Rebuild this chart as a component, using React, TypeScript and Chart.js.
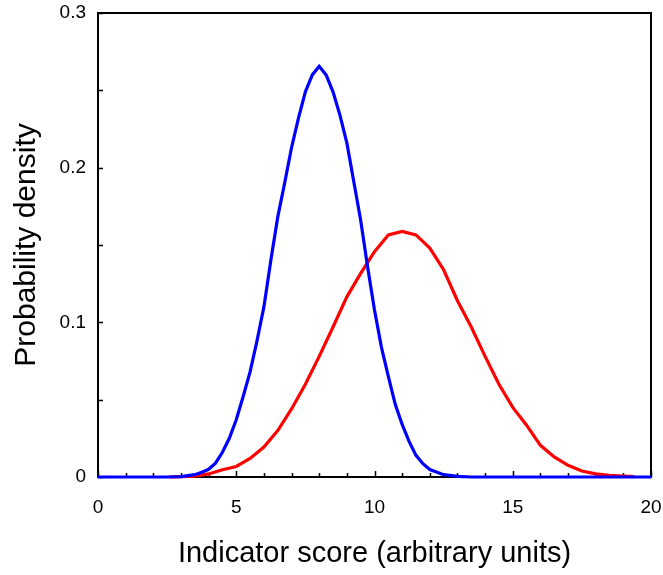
import React, { useEffect, useRef } from "react";
import { Chart, registerables } from "chart.js";

Chart.register(...registerables);

// Density curve for the first group (blue)
const blueX = [0, 1, 2, 2.5, 3, 3.5, 3.75, 4, 4.25, 4.5, 4.75, 5, 5.25, 5.5, 5.75, 6, 6.25, 6.5, 6.75, 7, 7.25, 7.5, 7.75, 8, 8.25, 8.5, 8.75, 9, 9.25, 9.5, 9.75, 10, 10.25, 10.5, 10.75, 11, 11.25, 11.5, 11.75, 12, 12.5, 13, 13.5, 14, 20];
const blueY = [0, 0, 0, 0, 0.0002, 0.0015, 0.003, 0.005, 0.009, 0.016, 0.025, 0.037, 0.052, 0.068, 0.088, 0.11, 0.14, 0.168, 0.19, 0.213, 0.232, 0.249, 0.26, 0.2655, 0.26, 0.249, 0.234, 0.216, 0.191, 0.166, 0.136, 0.108, 0.084, 0.065, 0.047, 0.034, 0.023, 0.014, 0.0086, 0.0048, 0.0015, 0.0004, 0, 0, 0];

// Density curve for the second group (red)
const redX = [2.6, 3, 3.5, 4, 4.5, 5, 5.5, 6, 6.5, 7, 7.5, 8, 8.5, 9, 9.5, 10, 10.5, 11, 11.5, 12, 12.5, 13, 13.5, 14, 14.5, 15, 15.5, 16, 16.5, 17, 17.5, 18, 18.5, 19, 19.4];
const redY = [0, 0.0002, 0.0005, 0.002, 0.0047, 0.0068, 0.012, 0.0194, 0.03, 0.044, 0.06, 0.078, 0.097, 0.1165, 0.1316, 0.1457, 0.1565, 0.1588, 0.1565, 0.148, 0.134, 0.114, 0.097, 0.078, 0.06, 0.045, 0.0335, 0.0205, 0.013, 0.0076, 0.0039, 0.002, 0.001, 0.0006, 0.0003];

// Axis ranges, labelled steps and inward tick marks
const xMin = 0;
const xMax = 20;
const xLabelStep = 5;
const xTickMarks = [0, 1, 2, 3, 4, 5, 6, 7, 8, 9, 10, 11, 12, 13, 14, 15, 16, 17, 18, 19, 20];
const yMin = 0;
const yMax = 0.3;
const yLabelStep = 0.1;
const yTickMarks = [0, 0.05, 0.1, 0.15, 0.2, 0.25, 0.3];

const xTitle = "Indicator score (arbitrary units)";
const yTitle = "Probability density";

const FONT = "'Liberation Sans', Arial, Helvetica, sans-serif";

const toPoints = (xs: number[], ys: number[]) => xs.map((x, i) => ({ x, y: ys[i] }));

// Box frame with inward ticks
const framePlugin = {
  id: "frameTicks",
  beforeDatasetsDraw(chart: any) {
    const { ctx, chartArea: a, scales } = chart;
    const xs = scales.x;
    const ys = scales.y;
    ctx.save();
    ctx.strokeStyle = "#000";
    ctx.lineWidth = 1.5;
    ctx.beginPath();
    for (const v of xTickMarks) {
      const px = Math.round(xs.getPixelForValue(v)) + 0.5;
      const len = v % xLabelStep === 0 ? 6 : 4;
      ctx.moveTo(px, a.bottom);
      ctx.lineTo(px, a.bottom - len);
    }
    for (const v of yTickMarks) {
      const py = Math.round(ys.getPixelForValue(v)) + 0.5;
      ctx.moveTo(a.left, py);
      ctx.lineTo(a.left + 5, py);
    }
    ctx.stroke();
    ctx.lineWidth = 2;
    ctx.strokeRect(a.left, a.top, a.right - a.left, a.bottom - a.top);
    ctx.restore();
  },
};

export default function App() {
  const canvasRef = useRef<HTMLCanvasElement | null>(null);

  useEffect(() => {
    const canvas = canvasRef.current;
    if (!canvas) return;
    const chart = new Chart(canvas, {
      type: "line",
      data: {
        datasets: [
          {
            label: "Group A",
            data: toPoints(blueX, blueY),
            borderColor: "#0000ff",
            borderWidth: 3.2,
            pointRadius: 0,
            tension: 0,
            fill: false,
            clip: false as any,
          },
          {
            label: "Group B",
            data: toPoints(redX, redY),
            borderColor: "#ff0000",
            borderWidth: 3.2,
            pointRadius: 0,
            tension: 0,
            fill: false,
            clip: false as any,
          },
        ],
      },
      options: {
        animation: false,
        responsive: false,
        devicePixelRatio: 1,
        layout: { padding: 0 },
        plugins: {
          legend: { display: false },
          tooltip: { enabled: false },
        },
        scales: {
          x: {
            type: "linear",
            min: xMin,
            max: xMax,
            grid: { display: false, drawTicks: false },
            border: { display: false },
            ticks: {
              stepSize: xLabelStep,
              color: "#000",
              padding: 19,
              maxRotation: 0,
              font: { family: FONT, size: 19 },
            },
            title: {
              display: true,
              text: xTitle,
              color: "#000",
              font: { family: FONT, size: 29 },
              padding: { top: 0, bottom: 4 },
            },
            afterFit: (scale: any) => {
              scale.height = 98;
              scale.paddingLeft = 0;
              scale.paddingRight = 12;
            },
          },
          y: {
            type: "linear",
            min: yMin,
            max: yMax,
            grid: { display: false, drawTicks: false },
            border: { display: false },
            ticks: {
              stepSize: yLabelStep,
              color: "#000",
              padding: 12,
              font: { family: FONT, size: 19 },
              callback: (v: any) => String(Number(Number(v).toFixed(2))),
            },
            title: {
              display: true,
              text: yTitle,
              color: "#000",
              font: { family: FONT, size: 30 },
              padding: { top: 9, bottom: 0 },
            },
            afterFit: (scale: any) => {
              scale.width = 98;
              scale.paddingTop = 13;
              scale.paddingBottom = 0;
            },
          },
        },
      },
      plugins: [framePlugin],
    });
    return () => chart.destroy();
  }, []);

  return (
    <div style={{ position: "absolute", left: 0, top: 0, width: 663, height: 575, background: "#fff" }}>
      <canvas ref={canvasRef} width={663} height={575} />
    </div>
  );
}
